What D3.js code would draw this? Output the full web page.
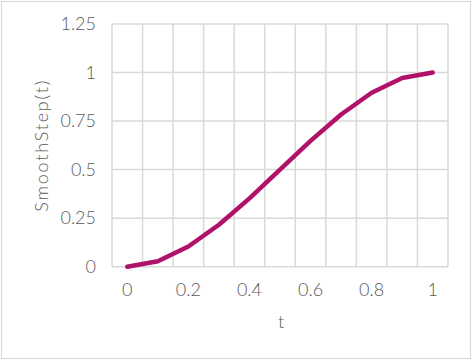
<!DOCTYPE html>
<html lang="en">
<head>
<meta charset="utf-8">
<style>
  body { margin: 0; background: #fff; }
  svg text {
    font-family: "Century Gothic", Lato, "DejaVu Sans", sans-serif;
    font-size: 18px;
    font-weight: 300;
    fill: #595959;
  }
  svg text.ytitle { letter-spacing: 1.8px; }
</style>
<script src="https://d3js.org/d3.v7.min.js" charset="utf-8"></script>
</head>
<body>
<script>
  // categories on the x axis
  let tValues = [0, 0.1, 0.2, 0.3, 0.4, 0.5, 0.6, 0.7, 0.8, 0.9, 1];
  // SmoothStep(t)
  let smoothValues = [0, 0.028, 0.104, 0.216, 0.352, 0.5, 0.648, 0.784, 0.896, 0.972, 1];
  let xTickLabels = ["0", "0.2", "0.4", "0.6", "0.8", "1"];
  let yTicks = [0, 0.25, 0.5, 0.75, 1, 1.25];

  let data = tValues.map(function(t, i) { return { t: t, v: smoothValues[i] }; });

  let svgWidth = 472;
  let svgHeight = 360;
  let plotLeft = 112, plotRight = 448, plotTop = 24, plotBottom = 266.7;

  let svg = d3.select("body")
    .append("svg")
    .attr("width", svgWidth)
    .attr("height", svgHeight);

  // chart border
  svg.append("rect")
    .attr("x", 1.5)
    .attr("y", 1.5)
    .attr("width", svgWidth - 3)
    .attr("height", svgHeight - 3)
    .style("fill", "#fff")
    .style("stroke", "#d9d9d9")
    .style("stroke-width", 1.2);

  let x = d3.scaleBand()
    .domain(tValues)
    .range([plotLeft, plotRight])
    .padding(0);

  let y = d3.scaleLinear()
    .domain([0, 1.25])
    .range([plotBottom, plotTop]);

  // horizontal gridlines
  svg.append("g")
    .selectAll("line")
    .data(yTicks)
    .join("line")
    .attr("x1", plotLeft)
    .attr("x2", plotRight)
    .attr("y1", function(d) { return y(d); })
    .attr("y2", function(d) { return y(d); })
    .style("stroke", "#d9d9d9")
    .style("stroke-width", 1.5);

  // vertical gridlines between categories
  let bounds = tValues.map(function(t) { return x(t); }).concat([plotRight]);
  svg.append("g")
    .selectAll("line")
    .data(bounds)
    .join("line")
    .attr("x1", function(d) { return d; })
    .attr("x2", function(d) { return d; })
    .attr("y1", plotTop)
    .attr("y2", plotBottom)
    .style("stroke", "#d9d9d9")
    .style("stroke-width", 1.5);

  // y axis labels
  svg.append("g")
    .selectAll("text")
    .data(yTicks)
    .join("text")
    .attr("x", 96)
    .attr("y", function(d) { return y(d); })
    .attr("dy", "0.35em")
    .attr("text-anchor", "end")
    .text(function(d) { return String(d); });

  // x axis labels (every other category)
  svg.append("g")
    .selectAll("text")
    .data(xTickLabels)
    .join("text")
    .attr("x", function(d) { return x(+d) + x.bandwidth() / 2; })
    .attr("y", 290)
    .attr("dy", "0.35em")
    .attr("text-anchor", "middle")
    .text(function(d) { return d; });

  // axis titles
  svg.append("text")
    .attr("x", 281)
    .attr("y", 322)
    .attr("dy", "0.35em")
    .attr("text-anchor", "middle")
    .text("t");

  svg.append("text")
    .attr("class", "ytitle")
    .attr("transform", "translate(42," + ((plotTop + plotBottom) / 2) + ") rotate(-90)")
    .attr("dy", "0.35em")
    .attr("text-anchor", "middle")
    .text("SmoothStep(t)");

  // the line
  svg.append("path")
    .datum(data)
    .attr("d", d3.line()
      .x(function(d) { return x(d.t) + x.bandwidth() / 2; })
      .y(function(d) { return y(d.v); })
    )
    .style("fill", "none")
    .style("stroke", "#b0126a")
    .style("stroke-width", 4.5)
    .style("stroke-linejoin", "round")
    .style("stroke-linecap", "round");
</script>
</body>
</html>
